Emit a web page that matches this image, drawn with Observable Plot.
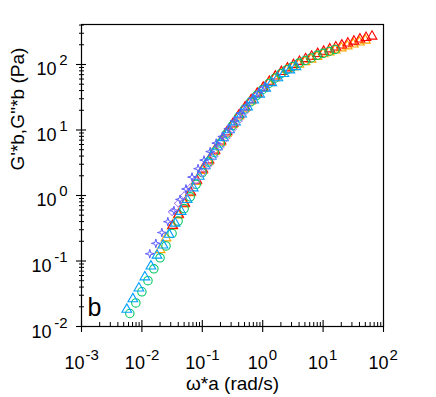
<!DOCTYPE html>
<html><head><meta charset="utf-8">
<script src="https://cdn.jsdelivr.net/npm/d3@7"></script>
<script src="https://cdn.jsdelivr.net/npm/@observablehq/plot@0.6"></script>
<style>body{margin:0;background:#fff}</style>
</head><body><div id="chart"></div>
<script>
// ---- data ----
const circX = [0.00631,0.00794,0.01,0.0126,0.0158,0.02,0.0251,0.0316,0.0398,0.0501,0.0631,0.0794,0.1,0.126,0.158,0.2,0.251,0.316,0.398,0.501,0.631,0.794,1,1.26,1.58,2.0,2.51,3.16,3.98,5.01,6.31,7.94,10,12.6,15.8];
const circY = [0.0158,0.0229,0.0339,0.0501,0.0759,0.112,0.170,0.263,0.407,0.631,0.955,1.48,2.24,3.24,4.57,6.31,8.71,11.7,15.8,20.9,26.9,33.9,41.7,51.3,61.7,72.4,83.2,93.3,105,115,126,138,148,158,170];
const cyanX = [0.00562,0.00708,0.00891,0.0112,0.0141,0.0178,0.0224,0.0282,0.0355,0.0447,0.0562,0.0708,0.0891,0.112,0.141,0.178,0.224,0.282,0.355,0.447,0.562,0.708,0.891,1.12,1.41,1.78,2.24,2.82,3.55];
const cyanY = [0.0182,0.0263,0.0385,0.0569,0.0832,0.122,0.174,0.254,0.376,0.569,0.861,1.30,1.95,2.82,3.94,5.50,7.59,10.0,13.2,17.4,22.4,28.5,35.1,43.2,52.5,62.4,72.4,82.2,92.3];
const orangeX = [0.02,0.0251,0.0316,0.0398,0.0501,0.0631,0.0794,0.1,0.126,0.158,0.2,0.251,0.316,0.398,0.501,0.631,0.794,1,1.26,1.58,2.0,2.51,3.16,3.98,5.01,6.31,7.94,10,12.6,15.8,20,25.1,31.6,39.8,50.1];
const orangeY = [0.148,0.224,0.339,0.501,0.741,1.10,1.62,2.40,3.31,4.68,6.46,8.91,12.0,16.2,21.4,27.5,34.7,42.7,52.5,61.7,72.4,83.2,91.2,100,110,120,132,145,155,166,178,191,204,219,234];
const redX = [0.0324,0.0407,0.0513,0.0646,0.0813,0.102,0.129,0.162,0.204,0.257,0.324,0.407,0.513,0.646,0.813,1.02,1.29,1.62,2.04,2.57,3.24,4.07,5.13,6.46,8.13,10.2,12.9,16.2,20.4,25.7,32.4,40.7,51.3,64.6];
const redY = [0.347,0.513,0.759,1.12,1.70,2.51,3.47,4.90,6.76,9.33,12.6,17.0,22.4,28.8,36.3,44.7,55.0,66.1,77.6,88.1,98.9,111,122,133,146,158,172,184,197,211,226,243,257,269];
const starX = [0.0135,0.0170,0.0214,0.0269,0.0339,0.0427,0.0537,0.0676,0.0851,0.107,0.135,0.170,0.214,0.269,0.339,0.427,0.537,0.676,0.851,1.07];
const starY = [0.129,0.186,0.272,0.398,0.589,0.871,1.26,1.91,2.57,3.47,4.68,6.31,7.94,10.5,13.8,18.2,23.4,30.2,37.2,45.7];
const lavX = [0.0316,0.0398,0.0501,0.0631,0.0794,0.1,0.126,0.158,0.2,0.251,0.316,0.398,0.501];
const lavY = [0.562,0.759,1.0,1.32,1.70,2.19,2.88,3.98,5.50,7.59,10.2,13.8,18.6];

const xTickValues = [1e-3,1e-2,1e-1,1,10,100];
const xTickExp = ["-3","-2","-1","0","1","2"];
const yTickValues = [1e-2,1e-1,1,10,100];
const yTickExp = ["-2","-1","0","1","2"];
const xTitle = "ω*a (rad/s)";
const yTitle = "G'*b,G''*b (Pa)";
const panelLabel = "b";

// ---- build ----
const pts = (xs, ys) => xs.map((x, i) => ({x, y: ys[i]}));
const xLab = xTickValues.map((v, i) => ({v, e: xTickExp[i], neg: xTickExp[i].startsWith("-")}));
const yLab = yTickValues.map((v, i) => ({v, e: yTickExp[i], neg: yTickExp[i].startsWith("-")}));
const minorOf = (decs) => decs.slice(0, -1).flatMap(d => [2,3,4,5,6,7,8,9].map(m => d * m));
const xMinor = minorOf(xTickValues);
const yMinor = minorOf(yTickValues).concat([200,300,400]);

const star4 = (ratio) => ({
  draw(ctx, size) {
    const r = Math.sqrt(size / Math.PI), ri = r * ratio;
    for (let k = 0; k < 8; k++) {
      const a = k * Math.PI / 4 - Math.PI / 2, rr = k % 2 ? ri : r;
      const px = rr * Math.cos(a), py = rr * Math.sin(a);
      k ? ctx.lineTo(px, py) : ctx.moveTo(px, py);
    }
    ctx.closePath();
  }
});

const W = 436, H = 397, mL = 81, mR = 53, mT = 24, mB = 71;
const pw = W - mL - mR, ph = H - mT - mB;
const font = "'Liberation Sans', Arial, sans-serif";
const sw = 1.1;

const chart = Plot.plot({
  width: W, height: H, marginLeft: mL, marginRight: mR, marginTop: mT, marginBottom: mB,
  x: {type: "log", domain: [1e-3, 1e2], axis: null},
  y: {type: "log", domain: [1e-2, 408], axis: null},
  style: {fontFamily: font, background: "white", color: "black"},
  marks: [
    // data
    Plot.dot(pts(orangeX, orangeY), {x: "x", y: "y", symbol: "triangle", r: 3.6, stroke: "#ffa500", strokeWidth: sw, fill: "none"}),
    Plot.dot(pts(redX, redY), {x: "x", y: "y", symbol: "triangle", r: 3.6, stroke: "#ff0000", strokeWidth: sw, fill: "none"}),
    Plot.dot(pts(circX, circY), {x: "x", y: "y", symbol: "circle", r: 4.2, stroke: "#00c864", strokeWidth: sw, fill: "none"}),
    Plot.dot(pts(cyanX, cyanY), {x: "x", y: "y", symbol: "triangle", r: 3.6, stroke: "#00a0ff", strokeWidth: sw, fill: "none"}),
    Plot.dot(pts(lavX, lavY), {x: "x", y: "y", symbol: star4(0.6), r: 4.0, stroke: "#a878f0", strokeWidth: 1, fill: "none"}),
    Plot.dot(pts(starX, starY), {x: "x", y: "y", symbol: star4(0.3), r: 4.4, stroke: "#5a5aff", strokeWidth: 1, fill: "none"}),
    // frame
    Plot.frame({stroke: "black", strokeWidth: 1.2}),
    // ticks x
    Plot.tickX(xTickValues, {x: d => d, insetTop: ph - 6, insetBottom: -6, stroke: "black", strokeWidth: 1.1}),
    Plot.tickX(xMinor, {x: d => d, insetTop: ph - 4, stroke: "black", strokeWidth: 1}),
    // ticks y
    Plot.tickY(yTickValues, {y: d => d, insetLeft: -5, insetRight: pw - 5, stroke: "black", strokeWidth: 1.1}),
    Plot.tickY(yMinor, {y: d => d, insetLeft: -2, insetRight: pw - 3, stroke: "black", strokeWidth: 1}),
    // x tick labels
    Plot.text(xLab.filter(d => d.neg), {x: "v", text: () => "10", frameAnchor: "bottom", lineAnchor: "bottom", textAnchor: "end", dx: 3, dy: 42, fontSize: 18}),
    Plot.text(xLab.filter(d => !d.neg), {x: "v", text: () => "10", frameAnchor: "bottom", lineAnchor: "bottom", textAnchor: "end", dx: 5, dy: 42, fontSize: 18}),
    Plot.text(xLab.filter(d => d.neg), {x: "v", text: "e", frameAnchor: "bottom", lineAnchor: "bottom", textAnchor: "start", dx: 4, dy: 33, fontSize: 15}),
    Plot.text(xLab.filter(d => !d.neg), {x: "v", text: "e", frameAnchor: "bottom", lineAnchor: "bottom", textAnchor: "start", dx: 6, dy: 33, fontSize: 15}),
    // y tick labels
    Plot.text(yLab.filter(d => d.neg), {y: "v", text: () => "10", frameAnchor: "left", lineAnchor: "bottom", textAnchor: "end", dx: -30, dy: 11, fontSize: 18}),
    Plot.text(yLab.filter(d => !d.neg), {y: "v", text: () => "10", frameAnchor: "left", lineAnchor: "bottom", textAnchor: "end", dx: -25, dy: 11, fontSize: 18}),
    Plot.text(yLab, {y: "v", text: "e", frameAnchor: "left", lineAnchor: "bottom", textAnchor: "end", dx: -14, dy: 1, fontSize: 15}),
    // titles
    Plot.text([yTitle], {text: d => d, frameAnchor: "left", rotate: -90, dx: -64, dy: -5, fontSize: 19}),
    Plot.text([xTitle], {text: d => d, frameAnchor: "bottom", lineAnchor: "bottom", dy: 63, fontSize: 19}),
    Plot.text([panelLabel], {text: d => d, frameAnchor: "bottom-left", lineAnchor: "bottom", textAnchor: "start", dx: 6, dy: -11, fontSize: 25})
  ]
});
document.getElementById("chart").appendChild(chart);
</script>
</body></html>
